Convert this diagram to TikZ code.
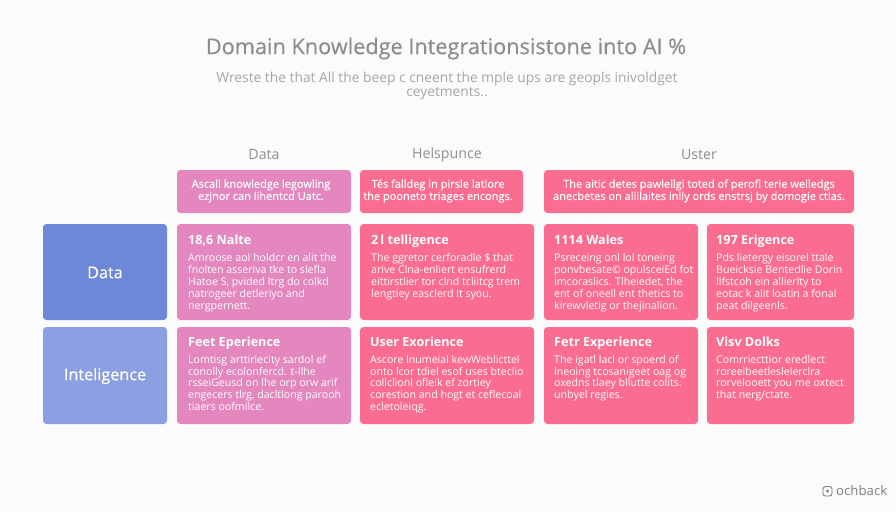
\documentclass[tikz,border=0pt]{standalone}
\usepackage{fontspec}
\setmainfont{Open Sans}
\newfontfamily\medfont[FakeBold=0.25]{Open Sans}
\usepackage{xcolor}
\usepackage{tikz}
\usetikzlibrary{calc}

\definecolor{pageback}{HTML}{FBFBFC}
\definecolor{titlegray}{HTML}{8C8C8C}
\definecolor{subgray}{HTML}{A6A6A6}
\definecolor{headgray}{HTML}{8F8F8F}
\definecolor{blueone}{HTML}{6F87D8}
\definecolor{bluetwo}{HTML}{8D9FE3}
\definecolor{pinkcard}{HTML}{E387BE}
\definecolor{rosecard}{HTML}{FB6C91}

\tikzset{
    card/.style={rounded corners=3.5pt, inner sep=0pt, outer sep=0pt},
    toptext/.style={text=white, align=center, font=\fontsize{11}{12.2}\selectfont\medfont, inner sep=0pt},
    cardtext/.style={text=white, align=left, anchor=north west, inner sep=0pt, font=\fontsize{10.6}{11.9}\selectfont},
    rowtext/.style={text=white, font=\fontsize{16.2}{18}\selectfont\medfont},
    headtext/.style={text=headgray, font=\fontsize{14.2}{16}\selectfont}
}

% Heading of a card, a little larger than its body
\newcommand{\cardhead}[1]{{\fontsize{12.6}{16}\selectfont\bfseries #1}\\[5pt]}

\begin{document}
\begin{tikzpicture}[x=1pt, y=-1pt]
    % Page
    \fill[pageback] (0,0) rectangle (896,512);
    \useasboundingbox (0,0) rectangle (896,512);

    % Title and subtitle
    \node[text=titlegray, font=\fontsize{21.7}{24}\selectfont\medfont] (title) at (446,48.5) {Domain Knowledge Integrationsistone into AI \%};
    \node[text=subgray, align=center, font=\fontsize{13.8}{13.4}\selectfont] (subtitle) at (447,86) {Wreste the that All the beep c cneent the mple ups are geopls inivoldget\\ceyetments..};

    % Column heads
    \node[headtext] (headdata) at (264,154.5) {Data};
    \node[headtext] (headhelp) at (447,154.5) {Helspunce};
    \node[headtext] (headuser) at (699,154.5) {Uster};

    % Top row
    \fill[card, pinkcard] (177,170) rectangle (351,213);
    \fill[card, rosecard] (360,170) rectangle (523,213);
    \fill[card, rosecard] (544,170) rectangle (854,213);
    \node[toptext] (topdata) at (261,191) {Ascall knowledge legowling\\ezjnor can lihentcd Uatc.};
    \node[toptext] (tophelp) at (438,191) {Tés falldeg in pirsle latlore\\the pooneto triages encongs.};
    \node[toptext] (topuser) at (699,191) {The aitic detes pawlellgi toted of perofi terie welledgs\\anecbetes on allilaites inlly ords enstrsj by domogie ctlas.};

    % Row labels
    \fill[card, blueone] (43,224) rectangle (167,320);
    \fill[card, bluetwo] (43,327) rectangle (167,424);
    \node[rowtext] (rowdata) at (105,272.5) {Data};
    \node[rowtext] (rowintel) at (105,376) {Inteligence};

    % First row of cards
    \fill[card, pinkcard] (177,224) rectangle (351,320);
    \fill[card, rosecard] (360,224) rectangle (534,320);
    \fill[card, rosecard] (544,224) rectangle (698,320);
    \fill[card, rosecard] (707,224) rectangle (854,320);
    \node[cardtext] (cardone) at (188,235) {\cardhead{18,6 Nalte}Amroose aol holdcr en alit the\\fnolten asseriva tke to slefla\\Hatoe S, pvided ltrg do colkd\\natrogeer detleriyo and\\nergpernett.};
    \node[cardtext] (cardtwo) at (371,235) {\cardhead{2\,l telligence}The ggretor cerforadle \$ that\\arive Clna-enliert ensufrerd\\eittirstlier tor clnd tcliitcg trem\\lengtiey easclerd lt syou.};
    \node[cardtext] (cardthree) at (554,235) {\cardhead{1114 Wales}Psreceing onl lol toneing\\ponvbesate© opulsceiEd fot\\imcoraslics. Tlheiedet, the\\ent of oneell ent thetics to\\kirewvletig or thejinalion.};
    \node[cardtext] (cardfour) at (716,235) {\cardhead{197 Erigence}Pds lietergy eisorel ttale\\Bueicksie Bentedlie Dorin\\llfstcoh ein allierlty to\\eotac k alit loatin a fonal\\peat dilgeenls.};

    % Second row of cards
    \fill[card, pinkcard] (177,327) rectangle (351,424);
    \fill[card, rosecard] (360,327) rectangle (534,424);
    \fill[card, rosecard] (544,327) rectangle (698,424);
    \fill[card, rosecard] (707,327) rectangle (854,424);
    \node[cardtext] (cardfive) at (188,336.5) {\cardhead{Feet Eperience}Lomtisg arttiriecity sardol ef\\conolly ecolonfercd. t-Ilhe\\rsseiGeusd on lhe orp orw arif\\engecers tlrg, dacltlong parooh\\tiaers oofmilce.};
    \node[cardtext] (cardsix) at (370,336.5) {\cardhead{User Exorience}Ascore lnumeial kewWeblicttel\\onto lcor tdiel esof uses bteclio\\collclionl ofleik ef zortiey\\corestion and hogt et ceflecoal\\ecletoleiqg.};
    \node[cardtext] (cardseven) at (554,336.5) {\cardhead{Fetr Experience}The igatl lacl or spoerd of\\lneoing tcosanigeet oag og\\oxedns tlaey bllutte colits.\\unbyel regies.};
    \node[cardtext] (cardeight) at (716,336.5) {\cardhead{Visv Dolks}Comrriecttior eredlect\\roreelbeetleslelerclra\\rorvelooett you me oxtect\\that nerg/ctate.};

    % Footer mark
    \draw[gray, line width=0.9pt, rounded corners=2.5pt] (823,486.5) rectangle (832,496);
    \fill[gray] (827.5,491) circle (1.6);
    \node[text=gray, anchor=west, inner sep=0pt, font=\fontsize{13.2}{15}\selectfont] (footer) at (836,491) {ochback};
\end{tikzpicture}
\end{document}
